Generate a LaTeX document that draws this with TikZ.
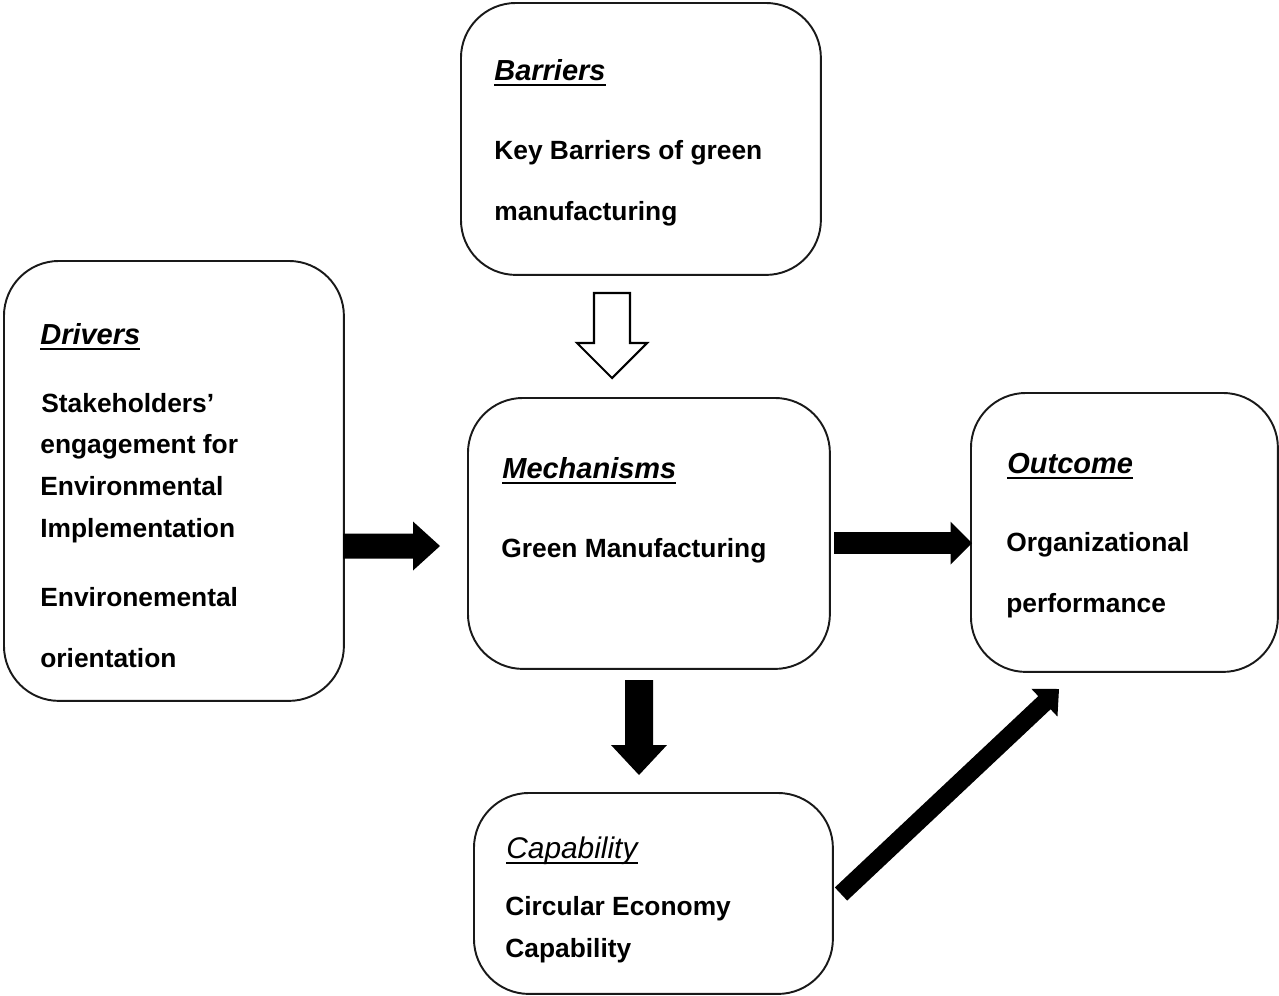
\documentclass[tikz,border=0pt]{standalone}
\usepackage{fontspec}
\setmainfont{Liberation Sans}
\usetikzlibrary{calc}

% underline at a fixed depth below the baseline, crossing descenders
\newcommand\ulbox[1]{\setbox0\hbox{#1}\rlap{\rule[-3.4pt]{\wd0}{1.1pt}}\box0}

% block arrow: style, from, to, shaft half width, head half width, head length
\newcommand\blockarrow[6]{%
  \coordinate (ba-h) at ($(#3)!#6!(#2)$);
  \path[#1] ($(#2)!#4!90:(#3)$) -- ($(ba-h)!#4!90:(#3)$) -- ($(ba-h)!#5!90:(#3)$)
    -- (#3) -- ($(ba-h)!#5!-90:(#3)$) -- ($(ba-h)!#4!-90:(#3)$) -- ($(#2)!#4!-90:(#3)$) -- cycle;
}

\tikzset{
  box/.style={draw=black!90, line width=1.1pt, rounded corners=1.1cm, anchor=north west, inner sep=0pt},
  body/.style={anchor=base west, inner sep=0pt, font=\fontsize{15}{18}\selectfont\bfseries},
  title/.style={anchor=base west, inner sep=0pt, font=\fontsize{16.5}{19}\selectfont\bfseries\itshape},
  lighttitle/.style={anchor=base west, inner sep=0pt, font=\fontsize{17}{19}\selectfont\itshape},
  solidarrow/.style={fill=black},
  hollowarrow/.style={fill=white, draw=black, line width=1.2pt, line join=miter},
}

\begin{document}
\begin{tikzpicture}[x=0.02cm, y=-0.02cm]
\useasboundingbox (0,0) rectangle (1279,995);

% boxes
\node[box, minimum width=7.2cm,  minimum height=5.44cm] (bar) at (460,2)   {};
\node[box, minimum width=6.8cm,  minimum height=8.8cm]  (drv) at (3,260)   {};
\node[box, minimum width=7.24cm, minimum height=5.42cm] (mec) at (467,397) {};
\node[box, minimum width=6.14cm, minimum height=5.58cm] (out) at (970,392) {};
\node[box, minimum width=7.18cm, minimum height=4.02cm] (cap) at (473,792) {};

% Barriers
\node[title] (bar-t)  at (494,80)  {\ulbox{Barriers}};
\node[body]  (bar-l1) at (494,159) {Key Barriers of green};
\node[body]  (bar-l2) at (494,220) {manufacturing};

% Drivers
\node[title] (drv-t)  at (40,344) {\ulbox{Drivers}};
\node[body]  (drv-l1) at (41,412) {Stakeholders’};
\node[body]  (drv-l2) at (40,453) {engagement for};
\node[body]  (drv-l3) at (40,495) {Environmental};
\node[body]  (drv-l4) at (40,537) {Implementation};
\node[body]  (drv-l5) at (40,606) {Environemental};
\node[body]  (drv-l6) at (40,667) {orientation};

% Mechanisms
\node[title] (mec-t)  at (502,478) {\ulbox{Mechanisms}};
\node[body]  (mec-l1) at (501,557) {Green Manufacturing};

% Outcome
\node[title] (out-t)  at (1007,473) {\ulbox{Outcome}};
\node[body]  (out-l1) at (1006,551) {Organizational};
\node[body]  (out-l2) at (1006,612) {performance};

% Capability
\node[lighttitle] (cap-t)  at (506,858) {\ulbox{Capability}};
\node[body]  (cap-l1) at (505,915) {Circular Economy};
\node[body]  (cap-l2) at (505,957) {Capability};

% arrow end points
\coordinate (a0s) at (612,293);  \coordinate (a0e) at (612,378);
\coordinate (a1s) at (343,546);  \coordinate (a1e) at (440,546);
\coordinate (a2s) at (834,543);  \coordinate (a2e) at (972,543);
\coordinate (a3s) at (639,680);  \coordinate (a3e) at (639,775);
\coordinate (a4s) at (841,894);  \coordinate (a4e) at (1059,689);

% barriers -> mechanisms (hollow)
\blockarrow{hollowarrow}{a0s}{a0e}{0.36cm}{0.7cm}{0.7cm}
% drivers -> mechanisms
\blockarrow{solidarrow}{a1s}{a1e}{0.25cm}{0.49cm}{0.54cm}
% mechanisms -> outcome
\blockarrow{solidarrow}{a2s}{a2e}{0.216cm}{0.43cm}{0.43cm}
% mechanisms -> capability
\blockarrow{solidarrow}{a3s}{a3e}{0.28cm}{0.56cm}{0.6cm}
% capability -> outcome
\blockarrow{solidarrow}{a4s}{a4e}{0.18cm}{0.38cm}{0.4cm}
\end{tikzpicture}
\end{document}
